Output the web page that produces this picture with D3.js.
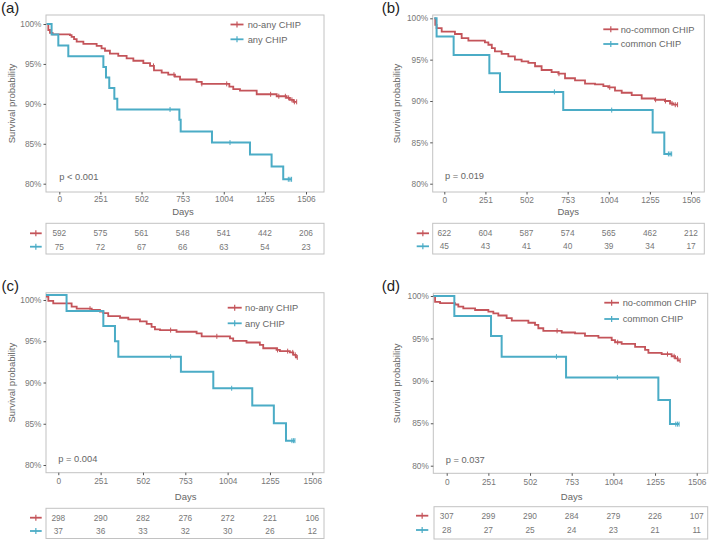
<!DOCTYPE html>
<html>
<head>
<meta charset="utf-8">
<script src="https://cdn.jsdelivr.net/npm/d3@7"></script>
<style>
html,body{margin:0;padding:0;background:#fff;}
svg{display:block;font-family:"Liberation Sans",Arial,sans-serif;}
</style>
</head>
<body>
<svg id="chart" width="709" height="542"></svg>
<script>
// ---------------- data ----------------
const panelLabels = ["(a)", "(b)", "(c)", "(d)"];
const groupNamesA = ["no-any CHIP", "any CHIP"];
const groupNamesB = ["no-common CHIP", "common CHIP"];
const pValues = ["p < 0.001", "p = 0.019", "p = 0.004", "p = 0.037"];
const xTicks = [0, 251, 502, 753, 1004, 1255, 1506];
const yTicks = [80, 85, 90, 95, 100];
const yTickLabels = ["80%", "85%", "90%", "95%", "100%"];

// survival steps: [day, survival %]
const survA_noAny = [[-77,100],[-67,99.25],[-57,98.9],[-41,98.7],[65,98.6],[75,98.4],[90,98.1],[106,97.8],[147,97.5],[228,97.25],[258,96.95],[279,96.65],[309,96.3],[360,96.0],[411,95.7],[452,95.4],[513,95.1],[554,94.75],[578,94.2],[625,93.9],[665,93.65],[706,93.4],[737,93.05],[838,92.75],[869,92.5],[1038,92.15],[1062,91.85],[1103,91.65],[1205,91.2],[1327,90.95],[1388,90.75],[1408,90.5],[1429,90.25],[1449,90.25]];
const survA_any = [[-77,100],[-47,98.67],[-6,97.3],[55,95.95],[269,94.6],[285,93.3],[305,92.0],[336,90.65],[354,89.3],[733,88.0],[741,86.55],[932,85.15],[1164,83.65],[1296,82.15],[1367,80.55],[1418,80.55]];
const survB_noCommon = [[-61,100],[-55,99.2],[-47,98.8],[-16,98.4],[65,98.1],[106,97.6],[147,97.3],[248,97.1],[269,96.8],[290,96.4],[309,96.0],[350,95.7],[391,95.4],[431,95.0],[472,94.8],[513,94.6],[554,94.2],[594,93.75],[655,93.5],[696,93.3],[737,92.75],[798,92.5],[859,92.1],[920,92.0],[971,91.8],[1001,91.65],[1042,91.25],[1083,91.0],[1144,90.7],[1205,90.3],[1286,90.15],[1347,90.0],[1378,89.7],[1398,89.55],[1424,89.55]];
const survB_common = [[-61,100],[-47,97.8],[57,95.55],[275,93.35],[340,91.1],[726,88.9],[1272,86.2],[1343,83.6],[1388,83.6]];
const survC_noAny = [[-73,100.4],[-59,99.9],[-30,99.6],[79,99.2],[109,98.95],[198,98.8],[247,98.6],[267,98.4],[296,98.05],[366,97.85],[415,97.65],[484,97.4],[524,97.1],[553,96.75],[573,96.45],[603,96.35],[701,96.15],[820,95.95],[850,95.6],[1018,95.35],[1037,95.05],[1116,94.85],[1195,94.55],[1215,94.15],[1294,93.95],[1314,93.8],[1373,93.65],[1393,93.35],[1409,93.05],[1417,93.05]];
const survC_any = [[-73,100.6],[49,98.67],[267,96.85],[336,95.0],[356,93.13],[727,91.3],[919,89.3],[1150,87.2],[1278,85.05],[1350,82.95],[1403,82.95]];
const survD_noCommon = [[-80,100],[-70,99.3],[-40,99.15],[50,99.0],[70,98.75],[100,98.55],[171,98.35],[251,98.15],[281,97.95],[311,97.7],[361,97.4],[392,97.1],[492,96.85],[532,96.6],[552,96.2],[582,95.9],[693,95.7],[773,95.6],[833,95.3],[914,95.1],[994,94.8],[1014,94.55],[1054,94.35],[1135,94.0],[1195,93.65],[1215,93.3],[1295,93.15],[1355,92.9],[1376,92.65],[1392,92.4],[1406,92.4]];
const survD_common = [[-80,100],[46,97.64],[267,95.28],[331,92.85],[719,90.4],[1275,87.74],[1345,84.9],[1400,84.9]];

// censor times (days)
const censA_noAny = [575,700,870,1022,1290,1340,1380,1400,1420,1435,1449];
const censA_any = [676,1042,1398,1408,1418];
const censB_noCommon = [700,1010,1290,1350,1390,1410,1424];
const censB_common = [672,1022,1368,1378,1388];
const censC_noAny = [188,666,940,1300,1360,1390,1405,1417];
const censC_any = [666,1028,1385,1395,1403];
const censD_noCommon = [665,1030,1330,1370,1390,1406];
const censD_common = [661,1028,1380,1390,1400];

// numbers at risk
const riskA_noAny = [592,575,561,548,541,442,206];
const riskA_any = [75,72,67,66,63,54,23];
const riskB_noCommon = [622,604,587,574,565,462,212];
const riskB_common = [45,43,41,40,39,34,17];
const riskC_noAny = [298,290,282,276,272,221,106];
const riskC_any = [37,36,33,32,30,26,12];
const riskD_noCommon = [307,299,290,284,279,226,107];
const riskD_common = [28,27,25,24,23,21,11];

const colRed = "#C4545A", colBlue = "#4BACC6";

// ---------------- layout ----------------
const panels = [
  {label:panelLabels[0], names:groupNamesA, p:pValues[0], s:[survA_noAny,survA_any], c:[censA_noAny,censA_any], r:[riskA_noAny,riskA_any],
   box:[46,15,324,192], xr:[59.3,306], yr:[183.7,24], tickY:199.5, daysX:183, daysY:211.7, titleX:11.7,
   leg:{x1:230.5,x2:243.5,tx:247.7,y1:24.5,y2:39.3}, pX:59.3, pY:176.7, lab:[1,12.5],
   tab:[46,223.3,324,254], rows:[233.3,246.7], key:[30,41.7]},
  {label:panelLabels[1], names:groupNamesB, p:pValues[1], s:[survB_noCommon,survB_common], c:[censB_noCommon,censB_common], r:[riskB_noCommon,riskB_common],
   box:[432.7,15,704.3,192], xr:[444.3,691], yr:[183.7,18.3], tickY:200, daysX:568.3, daysY:211.7, titleX:396.7,
   leg:{x1:603.3,x2:618.3,tx:620.7,y1:29.3,y2:44}, pX:445, pY:175.7, lab:[381.7,12.5],
   tab:[432.7,223.3,704.3,254], rows:[233.3,246.3], key:[416.7,429]},
  {label:panelLabels[2], names:groupNamesA, p:pValues[2], s:[survC_noAny,survC_any], c:[censC_noAny,censC_any], r:[riskC_noAny,riskC_any],
   box:[46,292.7,324,472.7], xr:[58.3,312.3], yr:[465,300], tickY:481.3, daysX:185.7, daysY:496.7, titleX:11.7,
   leg:{x1:227.7,x2:241.7,tx:245,y1:307.7,y2:323.3}, pX:58.3, pY:459, lab:[1.5,290.5],
   tab:[46,508.3,324,538.5], rows:[517.7,531], key:[30,41.7]},
  {label:panelLabels[3], names:groupNamesB, p:pValues[3], s:[survD_noCommon,survD_common], c:[censD_noCommon,censD_common], r:[riskD_noCommon,riskD_common],
   box:[433.3,293.3,707.7,473.3], xr:[446.7,696.7], yr:[465.7,296], tickY:481.7, daysX:571.7, daysY:496.7, titleX:396.7,
   leg:{x1:604.3,x2:619,tx:622.7,y1:302.7,y2:319}, pX:445.7, pY:459.3, lab:[381.7,291],
   tab:[434,506.7,707.7,539], rows:[515.7,530], key:[416,428.3]}
];

const svg = d3.select("#chart");
const textCol = "#666666", tickCol = "#777777", boxCol = "#c2c2c2";
const cols = [colRed, colBlue];

function survAt(steps, t){
  let v = steps[0][1];
  for (const d of steps){ if (d[0] <= t) v = d[1]; else break; }
  return v;
}

panels.forEach(P => {
  const g = svg.append("g");
  const x = d3.scaleLinear().domain([0,1506]).range(P.xr);
  const y = d3.scaleLinear().domain([80,100]).range(P.yr);
  const [bx0,by0,bx1,by1] = P.box;

  // panel label
  g.append("text").attr("x",P.lab[0]).attr("y",P.lab[1]).attr("font-size",15).attr("fill","#222").text(P.label);

  // plot box
  g.append("rect").attr("x",bx0).attr("y",by0).attr("width",bx1-bx0).attr("height",by1-by0)
    .attr("fill","none").attr("stroke",boxCol).attr("stroke-width",1);

  // y axis
  const yAx = g.append("g").attr("transform",`translate(${bx0},0)`)
    .call(d3.axisLeft(y).tickValues(yTicks).tickFormat((d,i)=>yTickLabels[i]).tickSize(2.5).tickPadding(2));
  yAx.select(".domain").remove();
  yAx.selectAll("line").attr("stroke","#555");
  yAx.selectAll("text").attr("font-size",8.3).attr("fill",tickCol).attr("font-family","Liberation Sans, Arial, sans-serif");

  // x axis
  const xAx = g.append("g").attr("transform",`translate(0,${by1})`)
    .call(d3.axisBottom(x).tickValues(xTicks).tickFormat(d3.format("d")).tickSize(2.5).tickPadding(3));
  xAx.select(".domain").remove();
  xAx.selectAll("line").attr("stroke","#555");
  xAx.selectAll("text").attr("font-size",8.3).attr("fill",tickCol).attr("font-family","Liberation Sans, Arial, sans-serif")
     .attr("y", P.tickY - by1).attr("dy","0.35em");

  // titles
  g.append("text").attr("x",P.daysX).attr("y",P.daysY).attr("dy","0.35em").attr("text-anchor","middle")
    .attr("font-size",9.5).attr("fill",textCol).text("Days");
  g.append("text").attr("transform",`translate(${P.titleX},${(by0+by1)/2}) rotate(-90)`).attr("dy","0.35em")
    .attr("text-anchor","middle").attr("font-size",9.5).attr("fill",textCol).text("Survival probability");

  // curves
  const line = d3.line().x(d=>x(d[0])).y(d=>y(d[1])).curve(d3.curveStepAfter);
  [0,1].forEach(k=>{
    g.append("path").datum(P.s[k]).attr("d",line).attr("fill","none")
      .attr("stroke",cols[k]).attr("stroke-width", k===0?1.8:2);
    g.selectAll(null).data(P.c[k]).enter().append("line")
      .attr("x1",d=>x(d)).attr("x2",d=>x(d))
      .attr("y1",d=>y(survAt(P.s[k],d))-2.5).attr("y2",d=>y(survAt(P.s[k],d))+2.5)
      .attr("stroke",cols[k]).attr("stroke-width",1);
  });

  // legend
  [[P.leg.y1,0],[P.leg.y2,1]].forEach(([ly,k])=>{
    g.append("line").attr("x1",P.leg.x1).attr("x2",P.leg.x2).attr("y1",ly).attr("y2",ly)
      .attr("stroke",cols[k]).attr("stroke-width",1.8);
    const mx=(P.leg.x1+P.leg.x2)/2;
    g.append("line").attr("x1",mx).attr("x2",mx).attr("y1",ly-3).attr("y2",ly+3)
      .attr("stroke",cols[k]).attr("stroke-width",1.2);
    g.append("text").attr("x",P.leg.tx).attr("y",ly).attr("dy","0.35em").attr("font-size",9.3)
      .attr("fill",textCol).text(P.names[k]);
  });

  // p value
  g.append("text").attr("x",P.pX).attr("y",P.pY).attr("dy","0.35em").attr("font-size",9.3)
    .attr("fill",textCol).text(P.p);

  // risk table
  const [tx0,ty0,tx1,ty1] = P.tab;
  g.append("rect").attr("x",tx0).attr("y",ty0).attr("width",tx1-tx0).attr("height",ty1-ty0)
    .attr("fill","none").attr("stroke",boxCol).attr("stroke-width",1);
  [0,1].forEach(k=>{
    const ry = P.rows[k];
    g.append("line").attr("x1",P.key[0]).attr("x2",P.key[1]).attr("y1",ry).attr("y2",ry)
      .attr("stroke",cols[k]).attr("stroke-width",1.8);
    const mx=(P.key[0]+P.key[1])/2;
    g.append("line").attr("x1",mx).attr("x2",mx).attr("y1",ry-3).attr("y2",ry+3)
      .attr("stroke",cols[k]).attr("stroke-width",1.2);
    g.selectAll(null).data(P.r[k]).enter().append("text")
      .attr("x",(d,i)=>x(xTicks[i])).attr("y",ry).attr("dy","0.35em").attr("text-anchor","middle")
      .attr("font-size",8.3).attr("fill",tickCol).text(d=>d);
  });
});
</script>
</body>
</html>
